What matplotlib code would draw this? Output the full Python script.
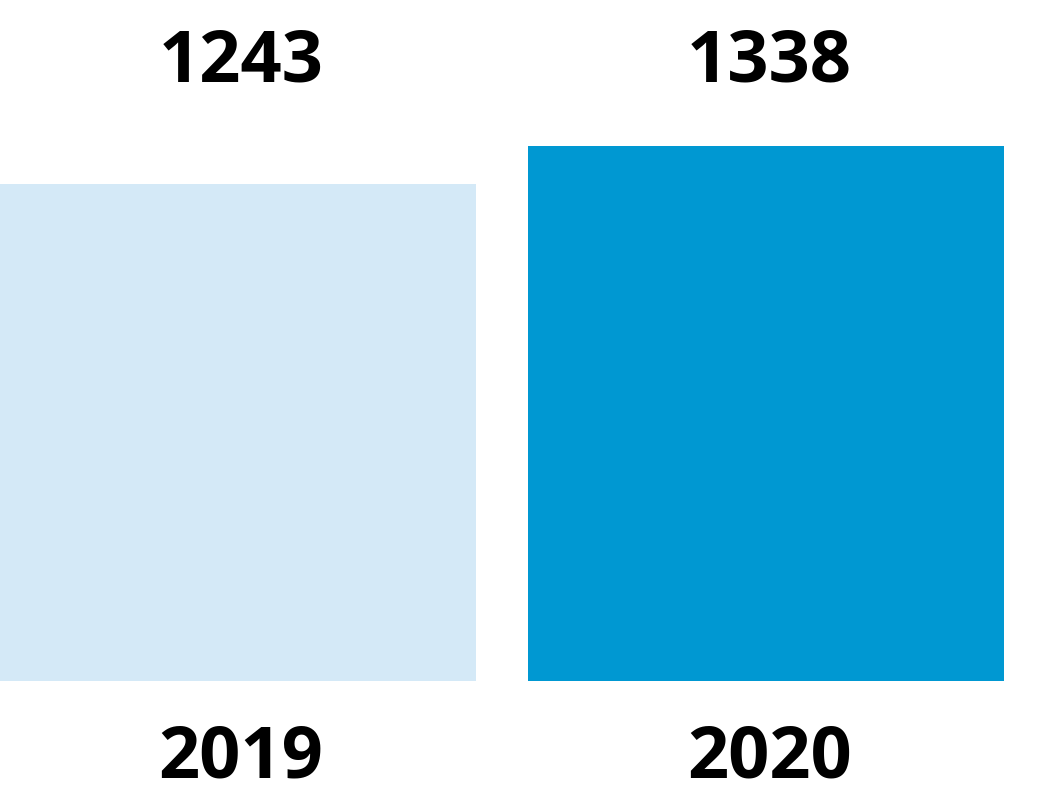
import matplotlib
matplotlib.use("Agg")
import matplotlib.pyplot as plt

years = ["2019", "2020"]
values = [1243, 1338]
colors = ["#D4E9F7", "#0098D2"]

fig = plt.figure(figsize=(10.5, 7.94), dpi=100)
ax = fig.add_axes([0.0, 113 / 794, 1004 / 1050, 535 / 794])

x = range(len(values))
ax.bar(x, values, width=0.9, color=colors)
ax.set_xlim(-0.45, 1.45)
ax.set_ylim(0, max(values))
ax.axis("off")

# 値ラベル（上）と年ラベル（下）
for i, (yr, v) in enumerate(zip(years, values)):
  xd = ax.transData.transform((i, 0))[0] / 1050
  fig.text(xd + 0.003, 1 - 63 / 794, str(v), ha="center", va="center",
           fontsize=52, fontweight="bold", family="Open Sans")
  fig.text(xd + 0.003, 1 - 759 / 794, yr, ha="center", va="center",
           fontsize=52, fontweight="bold", family="Open Sans")

fig.savefig("out.png", dpi=100)
